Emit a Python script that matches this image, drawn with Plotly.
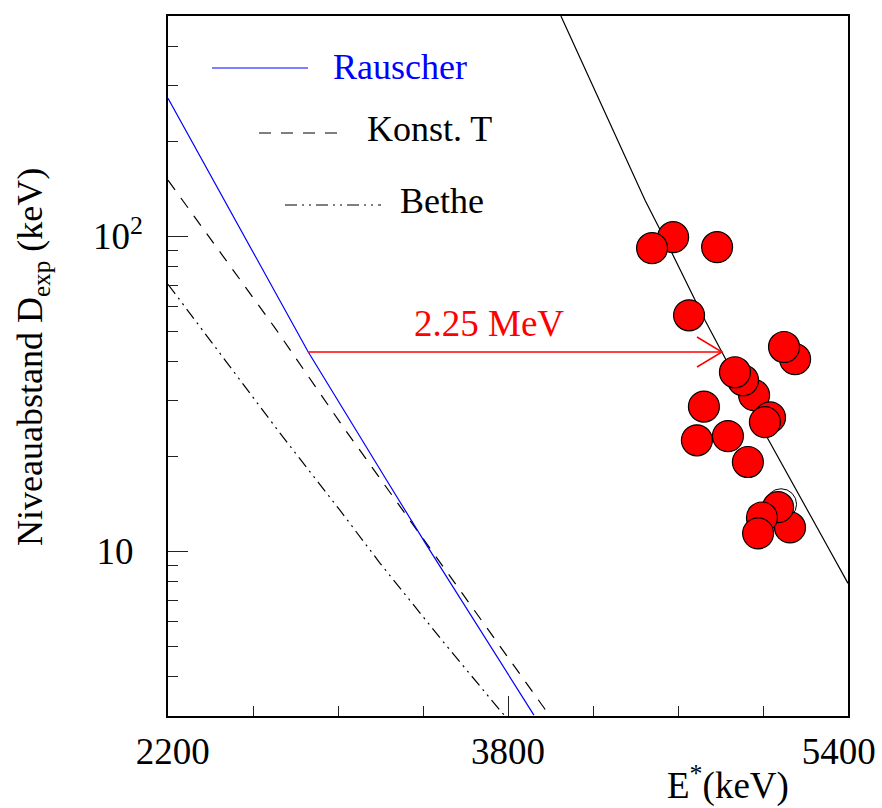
import math
import plotly.graph_objects as go

# ---------------- data ----------------
E_RAUSCHER = [2200, 2478, 2735, 2860, 3229, 3419, 3922]
D_RAUSCHER = [274, 125.4, 60.4, 42.9, 16.8, 10.4, 3.02]

E_KONST_T = [2200, 2704, 3019, 3306, 3584, 3988]
D_KONST_T = [150.6, 51.1, 25.1, 13.5, 7.36, 3.06]

E_BETHE = [2200, 2351, 2727, 2882, 3009, 3198, 3489, 3762, 3786]
D_BETHE = [70.4, 51.4, 23.7, 17.4, 13.5, 9.16, 5.22, 3.13, 3.0]

E_SHIFTED = [4049, 4445, 4572, 4727, 4807, 5019, 5306, 5400]
D_SHIFTED = [500, 130.1, 88.3, 54.1, 42.8, 23.0, 10.3, 7.91]

# experimental level spacings (drawing order back -> front)
E_EXP = [4577, 4478, 4784, 4652, 5151, 5099, 4958, 4906, 4868, 5033, 5009,
         4722, 4689, 4835, 4929, 5127, 5071, 4995, 4977]
D_EXP = [99.3, 91.6, 92.3, 56.1, 40.7, 44.5, 31.3, 34.9, 37.0, 26.6, 25.7,
         28.8, 22.5, 23.2, 19.2, 11.9, 13.8, 12.8, 11.4]
E_EXP_OPEN = [5085]
D_EXP_OPEN = [14.1]

ARROW_D = 42.9
ARROW_E_FROM = 2860
ARROW_E_TO = 4807
ARROW_LABEL = "2.25 MeV"

X_TICKS = [2200, 3800, 5400]
X_TICK_TEXT = ["\u00a02200", "3800", "5400\u00a0\u00a0"]
X_MINOR = [2600, 3000, 3400, 4200, 4600, 5000]
Y_TICKS = [10, 100]
Y_TICK_TEXT = ["10\u00a0", "10<sup>2</sup>"]
Y_MINOR = [3, 4, 5, 6, 7, 8, 9, 20, 30, 40, 50, 60, 70, 80, 90, 200, 300, 400]
X_RANGE = [2200, 5400]
Y_RANGE = [3, 500]

FONT = "Liberation Serif"

fig = go.Figure()

fig.add_trace(go.Scatter(x=E_BETHE, y=D_BETHE, mode="lines", name="Bethe",
                         line=dict(color="black", width=1.2,
                                   dash="12px,5px,2px,5px,2px,5px"),
                         hoverinfo="skip"))
fig.add_trace(go.Scatter(x=E_KONST_T, y=D_KONST_T, mode="lines", name="Konst. T",
                         line=dict(color="black", width=1.2, dash="12px,10px"),
                         hoverinfo="skip"))
fig.add_trace(go.Scatter(x=E_RAUSCHER, y=D_RAUSCHER, mode="lines", name="Rauscher",
                         line=dict(color="#0000ff", width=1.2), hoverinfo="skip"))
fig.add_trace(go.Scatter(x=E_SHIFTED, y=D_SHIFTED, mode="lines", name="shifted",
                         line=dict(color="black", width=1.2), hoverinfo="skip"))

fig.add_trace(go.Scatter(x=E_EXP_OPEN, y=D_EXP_OPEN, mode="markers",
                         marker=dict(symbol="circle-open", size=31, color="black",
                                     line=dict(width=1, color="black"))))
fig.add_trace(go.Scatter(x=E_EXP, y=D_EXP, mode="markers", name="D_exp",
                         marker=dict(symbol="circle", size=31, color="#ff0000",
                                     line=dict(width=1.2, color="black"))))

# arrow
fig.add_shape(type="line", xref="x", yref="y", x0=ARROW_E_FROM, x1=ARROW_E_TO,
              y0=ARROW_D, y1=ARROW_D, line=dict(color="#ff0000", width=1.5))
fig.add_shape(type="path", xref="x", yref="y", xsizemode="pixel", ysizemode="pixel",
              xanchor=ARROW_E_TO, yanchor=ARROW_D,
              path="M-25,-15 L0,0 L-25,15", line=dict(color="#ff0000", width=1.5))
fig.add_annotation(x=3711, y=math.log10(52.9), xref="x", yref="y", text=ARROW_LABEL,
                   showarrow=False, xanchor="center", yanchor="middle",
                   font=dict(family=FONT, size=37, color="#ff0000"))

# legend (drawn in ROOT style)
def px_x(p):
    return (p - 168) / 680.0

def px_y(p):
    return (716 - p) / 700.0

legend_items = [
    ("Rauscher", "#0000ff", "#0000ff", "solid", 212, 308, 68, 331, 67),
    ("Konst. T", "black", "black", "12px,10px", 259, 345, 133, 365, 129),
    ("Bethe", "black", "black", "12px,5px,2px,5px,2px,5px", 285, 381, 205, 398, 201),
]
for text, lc, tc, dash, lx0, lx1, ly, tx, ty in legend_items:
    fig.add_shape(type="line", xref="paper", yref="paper", x0=px_x(lx0), x1=px_x(lx1),
                  y0=px_y(ly), y1=px_y(ly), line=dict(color=lc, width=1.2, dash=dash))
    fig.add_annotation(x=px_x(tx), y=px_y(ty), xref="paper", yref="paper", text=text,
                       showarrow=False, xanchor="left", yanchor="middle",
                       font=dict(family=FONT, size=36, color=tc))

# axis titles
fig.add_annotation(x=px_x(33), y=px_y(357), xref="paper", yref="paper",
                   text="Niveauabstand D<sub>exp</sub> (keV)", textangle=-90,
                   showarrow=False, xanchor="center", yanchor="middle",
                   font=dict(family=FONT, size=36, color="black"))
fig.add_annotation(x=px_x(791), y=px_y(783), xref="paper", yref="paper",
                   text="E<sup>*</sup>(keV)", showarrow=False,
                   xanchor="right", yanchor="middle",
                   font=dict(family=FONT, size=37, color="black"))

fig.update_layout(
    width=882, height=808,
    margin=dict(l=168, r=34, t=16, b=92, pad=0, autoexpand=False),
    paper_bgcolor="white", plot_bgcolor="white",
    showlegend=False,
    font=dict(family=FONT, size=36, color="black"),
    xaxis=dict(range=X_RANGE, tickmode="array", tickvals=X_TICKS, ticktext=X_TICK_TEXT,
               ticks="inside", ticklen=20, tickwidth=1.2, tickcolor="#222",
               showline=True, linewidth=1.5, linecolor="black", mirror=True,
               showgrid=False, zeroline=False, ticklabelstandoff=2,
               ticklabeloverflow="allow", automargin=False,
               tickfont=dict(family=FONT, size=37),
               minor=dict(tickmode="array", tickvals=X_MINOR, ticks="inside",
                          ticklen=10, tickwidth=1.2, tickcolor="#222", showgrid=False)),
    yaxis=dict(type="log", range=[math.log10(Y_RANGE[0]), math.log10(Y_RANGE[1])],
               tickmode="array", tickvals=Y_TICKS, ticktext=Y_TICK_TEXT,
               ticks="inside", ticklen=20, tickwidth=1.2, tickcolor="#222",
               showline=True, linewidth=1.5, linecolor="black", mirror=True,
               showgrid=False, zeroline=False, ticklabelstandoff=16,
               ticklabeloverflow="allow", automargin=False,
               tickfont=dict(family=FONT, size=37),
               minor=dict(tickmode="array", tickvals=Y_MINOR, ticks="inside",
                          ticklen=10, tickwidth=1.2, tickcolor="#222", showgrid=False)),
)

fig.write_html("out.html")
